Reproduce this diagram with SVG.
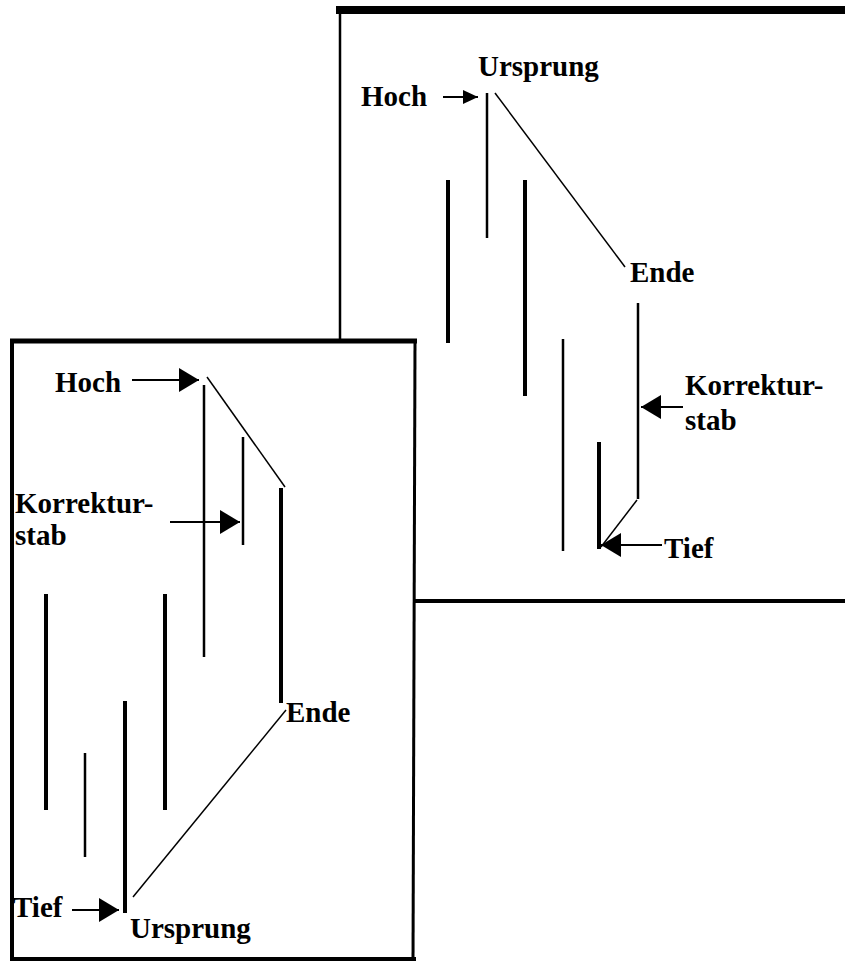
<svg xmlns="http://www.w3.org/2000/svg" width="845" height="964" viewBox="0 0 845 964">
<defs>
<marker id="ahL" markerUnits="userSpaceOnUse" markerWidth="20" markerHeight="24" refX="20" refY="12" orient="auto"><path d="M0,0 L20,12 L0,24 z" fill="#000"/></marker>
<marker id="ahS" markerUnits="userSpaceOnUse" markerWidth="15" markerHeight="14" refX="15" refY="7" orient="auto"><path d="M0,0 L15,7 L0,14 z" fill="#000"/></marker>
</defs>
<style>
.lbl{font-family:"Liberation Serif","Times New Roman",serif;font-weight:bold;font-size:29px;fill:#000}
.bar{stroke:#000;stroke-linecap:butt;fill:none}
.thin{stroke-width:2.5}
.thick{stroke-width:4}
.diag{stroke:#000;stroke-width:1.5;fill:none}
.arr{stroke:#000;stroke-width:2;fill:none}
</style>
<rect width="845" height="964" fill="#fff"/>
<g id="panel-right">
<rect x="340" y="10" width="520" height="591" fill="#fff" stroke="none"/>
<line x1="336" y1="10" x2="845" y2="10" stroke="#000" stroke-width="8"/>
<line x1="340" y1="10" x2="340" y2="345" stroke="#000" stroke-width="2.5"/>
<line x1="413" y1="601" x2="845" y2="601" stroke="#000" stroke-width="4"/>
</g>
<g id="bars-right">
<line class="bar thick" x1="448" y1="180" x2="448" y2="343"/>
<line class="bar thin" x1="487" y1="93" x2="487" y2="238"/>
<line class="bar thick" x1="525" y1="180" x2="525" y2="396"/>
<line class="bar thin" x1="563" y1="339" x2="563" y2="551"/>
<line class="bar thick" x1="599" y1="442" x2="599" y2="549"/>
<line class="bar thin" x1="638" y1="303" x2="638" y2="499"/>
</g>
<g id="labels-right">
<text class="lbl" x="478" y="76">Ursprung</text>
<text class="lbl" x="361" y="106">Hoch</text>
<text class="lbl" x="630" y="282">Ende</text>
<text class="lbl" x="685" y="395">Korrektur-</text>
<text class="lbl" x="685" y="430">stab</text>
<text class="lbl" x="664" y="558">Tief</text>
</g>
<g id="panel-left">
<rect x="12" y="341" width="403" height="618" fill="#fff" stroke="none"/>
<line x1="10" y1="341" x2="417" y2="341" stroke="#000" stroke-width="5"/>
<line x1="12" y1="341" x2="12" y2="961" stroke="#000" stroke-width="4"/>
<line x1="10" y1="959" x2="416" y2="959" stroke="#000" stroke-width="4"/>
<line x1="415" y1="341" x2="413" y2="961" stroke="#000" stroke-width="3"/>
</g>
<g id="bars-left">
<line class="bar thick" x1="46" y1="594" x2="46" y2="810"/>
<line class="bar thin" x1="85" y1="753" x2="85" y2="857"/>
<line class="bar thick" x1="125" y1="701" x2="125" y2="913"/>
<line class="bar thick" x1="165" y1="594" x2="165" y2="810"/>
<line class="bar thin" x1="204" y1="385" x2="204" y2="657"/>
<line class="bar thin" x1="243" y1="437" x2="243" y2="545"/>
<line class="bar thick" x1="281" y1="488" x2="281" y2="703"/>
</g>
<g id="labels-left">
<text class="lbl" x="55" y="392">Hoch</text>
<text class="lbl" x="15" y="513">Korrektur-</text>
<text class="lbl" x="15" y="545">stab</text>
<text class="lbl" x="286" y="722">Ende</text>
<text class="lbl" x="13" y="917">Tief</text>
<text class="lbl" x="130" y="938">Ursprung</text>
</g>
<g id="connectors">
<line class="diag" x1="495" y1="93" x2="625" y2="267"/>
<line class="diag" x1="637" y1="500" x2="601" y2="547"/>
<line class="diag" x1="207" y1="377" x2="285" y2="487"/>
<line class="diag" x1="133" y1="897" x2="286" y2="710"/>
<line class="arr" x1="443" y1="97" x2="478" y2="97" marker-end="url(#ahS)"/>
<line class="arr" x1="683" y1="407" x2="641" y2="407" marker-end="url(#ahL)"/>
<line class="arr" x1="662" y1="545" x2="601" y2="545" marker-end="url(#ahL)"/>
<line class="arr" x1="132" y1="380" x2="199" y2="380" marker-end="url(#ahL)"/>
<line class="arr" x1="170" y1="522" x2="240" y2="522" marker-end="url(#ahL)"/>
<line class="arr" x1="72" y1="910" x2="119" y2="910" marker-end="url(#ahL)"/>
</g>
</svg>
